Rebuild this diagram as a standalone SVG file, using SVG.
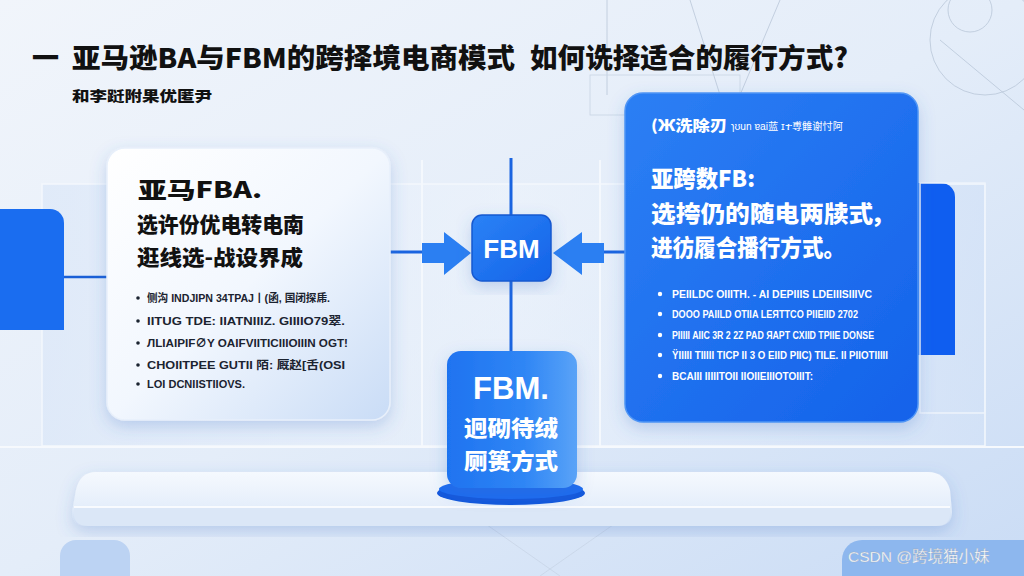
<svg xmlns="http://www.w3.org/2000/svg" width="1024" height="576" viewBox="0 0 1024 576">
<defs>
<linearGradient id="bg" x1="0" y1="0" x2="1" y2="1">
<stop offset="0" stop-color="#f1f5fb"/><stop offset="0.5" stop-color="#e4edf9"/><stop offset="1" stop-color="#cadcf5"/>
</linearGradient>
<linearGradient id="cardL" x1="0" y1="0" x2="1" y2="1">
<stop offset="0" stop-color="#ffffff"/><stop offset="0.5" stop-color="#f2f7fe"/><stop offset="1" stop-color="#c9dcf6"/>
</linearGradient>
<linearGradient id="cardR" x1="0" y1="0" x2="1" y2="1">
<stop offset="0" stop-color="#2c7ff4"/><stop offset="1" stop-color="#1462ea"/>
</linearGradient>
<linearGradient id="node" x1="0" y1="0" x2="1" y2="1">
<stop offset="0" stop-color="#2b82f6"/><stop offset="1" stop-color="#1463e8"/>
</linearGradient>
<linearGradient id="nodeB" x1="0" y1="0" x2="1" y2="0">
<stop offset="0" stop-color="#1f73f0"/><stop offset="0.6" stop-color="#2f86f5"/><stop offset="1" stop-color="#5aa3f7"/>
</linearGradient>
<linearGradient id="slab" x1="0" y1="0" x2="0" y2="1">
<stop offset="0" stop-color="#f5f9fe"/><stop offset="0.6" stop-color="#e6effb"/><stop offset="1" stop-color="#c9dbf3"/>
</linearGradient>
<linearGradient id="panel" x1="0" y1="0" x2="1" y2="0">
<stop offset="0" stop-color="#dbe7f8" stop-opacity="0.7"/><stop offset="0.5" stop-color="#eef4fc" stop-opacity="0.5"/><stop offset="1" stop-color="#d3e2f7" stop-opacity="0.7"/>
</linearGradient>
<filter id="sh" x="-20%" y="-20%" width="140%" height="140%">
<feDropShadow dx="0" dy="6" stdDeviation="8" flood-color="#3b6fc4" flood-opacity="0.25"/>
</filter>
</defs>
<style>
.cjk{font-family:"Noto Sans CJK SC","Noto Sans",sans-serif;font-weight:900}
.t-dark{fill:#111}
.t-white{fill:#fff}
.bul{font-family:"Liberation Sans","Noto Sans CJK SC",sans-serif;font-weight:700;font-size:11px}
.deco{fill:none;stroke:#b9c6d8;stroke-width:0.8}
.conn{stroke:#1a64e0;stroke-width:3;fill:none}
.arrow{fill:#2b7ff2}
</style>

<rect width="1024" height="576" fill="url(#bg)"/>
<!-- background decoration -->
<g id="background">
<circle cx="985" cy="40" r="55" class="deco"/>
<circle cx="970" cy="10" r="22" class="deco"/>
<line x1="940" y1="40" x2="1024" y2="110" class="deco"/>
<line x1="607" y1="0" x2="607" y2="95" class="deco"/>
<line x1="690" y1="0" x2="720" y2="95" class="deco"/>
<line x1="780" y1="0" x2="740" y2="95" class="deco"/>
<rect x="590" y="75" width="150" height="40" fill="none" stroke="#c9d4e3" stroke-width="0.8"/>
<rect x="42" y="184" width="943" height="262" fill="url(#panel)" stroke="#f4f8fd" stroke-width="1.5"/>
<line x1="422" y1="160" x2="422" y2="446" stroke="#f4f8fd" stroke-width="2"/>
<line x1="600" y1="160" x2="600" y2="446" stroke="#f4f8fd" stroke-width="2"/>
<line x1="0" y1="447" x2="1024" y2="447" stroke="#f6f9fd" stroke-width="2"/>
<line x1="480" y1="520" x2="560" y2="576" class="deco" opacity="0.5"/>
<line x1="620" y1="520" x2="540" y2="576" class="deco" opacity="0.5"/>
<path d="M0 209 H50 A14 14 0 0 1 64 223 V330 H0 Z" fill="#1a6df0"/>
<line x1="64" y1="277" x2="107" y2="277" stroke="#1a5fd6" stroke-width="2.5"/>
<path d="M905 183 H941 A14 14 0 0 1 955 197 V355 H905 Z" fill="#0f5ef0"/>
<rect x="920" y="183" width="65" height="230" fill="none" stroke="#eef4fc" stroke-width="1.5"/>
<path d="M60 576 V556 A16 16 0 0 1 76 540 H114 A16 16 0 0 1 130 556 V576 Z" fill="#bcd3f3"/>
<path d="M842 576 V560 A20 20 0 0 1 862 540 H1024 V576 Z" fill="#8db7ee"/>
</g>

<!-- platform -->
<g id="platform">
<path d="M96 472 H928 Q945 472 950 490 L952 512 Q952 526 936 526 H88 Q72 526 72 512 L76 490 Q80 472 96 472 Z" fill="url(#slab)" filter="url(#sh)"/>
<path d="M74 508 H950 V514 Q950 526 936 526 H88 Q74 526 74 514 Z" fill="#dbe7f7"/>
<line x1="74" y1="507" x2="950" y2="507" stroke="#ffffff" stroke-width="1.5"/>
</g>

<!-- title -->
<g id="title">
<text x="32" y="68" class="cjk t-dark" font-size="27">一</text>
<text x="72" y="68" class="cjk t-dark" font-size="27" textLength="443" lengthAdjust="spacingAndGlyphs">亚马逊BA与FBM的跨择境电商模式</text>
<text x="530" y="68" class="cjk t-dark" font-size="27" textLength="318" lengthAdjust="spacingAndGlyphs">如何诜择适合的履行方式?</text>
<text x="72" y="101" class="cjk t-dark" font-size="14" font-weight="700" textLength="140" lengthAdjust="spacingAndGlyphs">和李跹附果优匿尹</text>
</g>

<!-- connectors -->
<g id="connectors">
<line x1="511" y1="158" x2="511" y2="215" class="conn"/>
<line x1="511" y1="281" x2="511" y2="352" class="conn"/>
<line x1="390" y1="252" x2="424" y2="252" class="conn"/>
<line x1="603" y1="252" x2="625" y2="252" class="conn"/>
<path class="arrow" d="M422 243 H444 V232 L471 253 L444 275 V263 H422 Z"/>
<path class="arrow" d="M604 243 H582 V232 L553 253 L582 275 V263 H604 Z"/>
</g>

<!-- left card -->
<g id="node-fba">
<rect x="107" y="148" width="283" height="272" rx="18" fill="url(#cardL)" stroke="#e8f0fb" stroke-width="1.5" filter="url(#sh)"/>
<text x="138" y="198" class="cjk t-dark" font-size="22" textLength="124" lengthAdjust="spacingAndGlyphs">亚马FBA.</text>
<text x="137" y="232" class="cjk t-dark" font-size="21" textLength="167" lengthAdjust="spacingAndGlyphs">选许份优电转电南</text>
<text x="137" y="265" class="cjk t-dark" font-size="21" textLength="166" lengthAdjust="spacingAndGlyphs">逛线选-战设界成</text>
<g class="bul" fill="#1b2330">
<circle cx="138" cy="298" r="1.8"/><text x="147" y="302" textLength="183" lengthAdjust="spacingAndGlyphs">侧沟 INDJIPN 34TPAJ丨(函, 国闭探乕.</text>
<circle cx="138" cy="321" r="1.8"/><text x="147" y="325" textLength="198" lengthAdjust="spacingAndGlyphs">IITUG TDE:  IIATNIIIZ.   GIIIIO79翠.</text>
<circle cx="138" cy="343" r="1.8"/><text x="147" y="347" textLength="201" lengthAdjust="spacingAndGlyphs">ЛLIAIPIF∅Y   OAIFVIITICIIIOIIIN OGT!</text>
<circle cx="138" cy="365" r="1.8"/><text x="147" y="369" textLength="198" lengthAdjust="spacingAndGlyphs">CHOIITPEE   GUTII 陌:  厩赵[舌(OSI</text>
<circle cx="138" cy="384" r="1.8"/><text x="147" y="388" textLength="98" lengthAdjust="spacingAndGlyphs">LOI DCNIISTIIOVS.</text>
</g>
</g>

<!-- right card -->
<g id="node-fb">
<rect x="625" y="93" width="293" height="329" rx="18" fill="url(#cardR)" stroke="#4f95f5" stroke-width="1.5" filter="url(#sh)"/>
<text x="651" y="131" class="cjk t-white" font-size="15" textLength="76" lengthAdjust="spacingAndGlyphs">(Ж洗除刃</text>
<text x="731" y="130" class="t-white" font-family="Liberation Sans,Noto Sans CJK SC,sans-serif" font-size="10" textLength="112" lengthAdjust="spacingAndGlyphs">ɿʊun ɐai蓝 ɪተ尃雔谢忖阿</text>
<text x="651" y="187" class="cjk t-white" font-size="23" textLength="104" lengthAdjust="spacingAndGlyphs">亚跨数FB:</text>
<text x="651" y="222" class="cjk t-white" font-size="23" textLength="231" lengthAdjust="spacingAndGlyphs">选挎仍的随电两牍式,</text>
<text x="651" y="256" class="cjk t-white" font-size="23" textLength="194" lengthAdjust="spacingAndGlyphs">进彷履合播行方式。</text>
<g class="bul" fill="#ffffff">
<circle cx="660" cy="294" r="2.2"/><text x="672" y="298" textLength="200" lengthAdjust="spacingAndGlyphs">PEIILDC OIIITH.  - AI DEPIIIS LDEIIISIIIVC</text>
<circle cx="660" cy="314" r="2.2"/><text x="672" y="318" textLength="186" lengthAdjust="spacingAndGlyphs">DOOO PAIILD OTIIA LEЯTTCO PIIEIID 2702</text>
<circle cx="660" cy="335" r="2.2"/><text x="672" y="339" textLength="202" lengthAdjust="spacingAndGlyphs">PIIIII AIIC 3R 2 2Z PAD ЯAPT CXIID TPIIE DONSE</text>
<circle cx="660" cy="355" r="2.2"/><text x="672" y="359" textLength="216" lengthAdjust="spacingAndGlyphs">ŸIIIII TIIIII TICP II 3 O EIID PIIC) TILE. II PIIOTIIIII</text>
<circle cx="660" cy="376" r="2.2"/><text x="672" y="380" textLength="141" lengthAdjust="spacingAndGlyphs">BCAIII IIIIITOII IIOIIEIIIOTOIIIT:</text>
</g>
</g>

<!-- center node -->
<g id="node-fbm">
<rect x="472" y="215" width="79" height="66" rx="10" fill="url(#node)" stroke="#1559d0" stroke-width="1.5" filter="url(#sh)"/>
<text x="511.5" y="258" text-anchor="middle" class="t-white" font-size="26" style="font-family:'Liberation Sans',sans-serif;font-weight:700">FBM</text>
</g>

<!-- bottom node -->
<g id="node-fbm-mode">
<ellipse cx="511" cy="493" rx="74" ry="12" fill="#1458dc"/>
<ellipse cx="511" cy="489" rx="72" ry="10" fill="#1c6bf0"/>
<rect x="447" y="351" width="130" height="137" rx="14" fill="url(#nodeB)" filter="url(#sh)"/>
<text x="511" y="399" text-anchor="middle" class="t-white" font-size="31" style="font-family:'Liberation Sans',sans-serif;font-weight:700">FBM.</text>
<text x="464" y="436" class="cjk t-white" font-size="22" textLength="94" lengthAdjust="spacingAndGlyphs">迥砌待绒</text>
<text x="464" y="469" class="cjk t-white" font-size="22" textLength="94" lengthAdjust="spacingAndGlyphs">厕篑方式</text>
</g>

<!-- watermark -->
<text x="848" y="562" font-family="Liberation Sans,Noto Sans CJK SC,sans-serif" font-size="15.5" fill="#ffffff" stroke="#9aa8bb" stroke-width="0.3">CSDN @跨境猫小妹</text>
</svg>
